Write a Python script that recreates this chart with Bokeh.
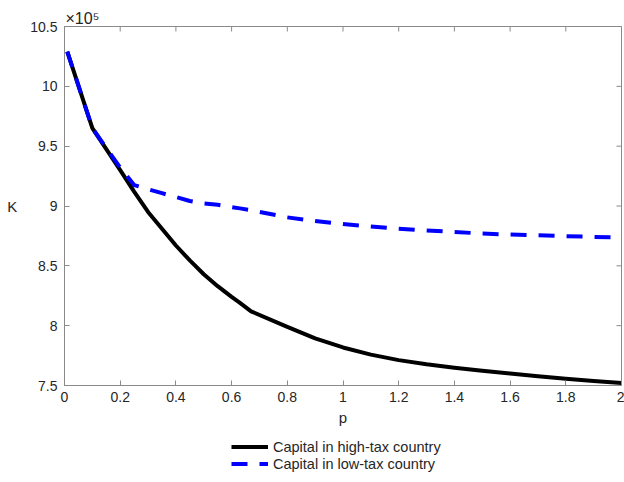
import math

from bokeh.plotting import figure
from bokeh.layouts import column
from bokeh.models import (ColumnDataSource, FixedTicker, Legend, LegendItem, Title)
from bokeh.embed import file_html
from bokeh.resources import INLINE

# Tax-rate parameter p
p_vals = [0.01, 0.1, 0.2, 0.25, 0.3, 0.35, 0.4, 0.45, 0.5, 0.55, 0.6, 0.63, 0.67,
          0.8, 0.9, 1.0, 1.1, 1.2, 1.3, 1.4, 1.5, 1.6, 1.7, 1.8, 1.9, 2.0]
# Capital stock, in units of 1e5
k_high = [10.29, 9.65, 9.30, 9.12, 8.95, 8.81, 8.67, 8.545, 8.43, 8.33, 8.24,
          8.19, 8.12, 7.99, 7.893, 7.818, 7.758, 7.712, 7.677, 7.649, 7.623,
          7.6, 7.578, 7.557, 7.538, 7.52]
k_low = [10.29, 9.65, 9.32, 9.175, 9.14, 9.107, 9.075, 9.042, 9.022, 9.01, 8.99,
         8.98, 8.965, 8.905, 8.875, 8.85, 8.828, 8.81, 8.796, 8.783, 8.77,
         8.761, 8.755, 8.748, 8.742, 8.736]

x_ticks = [0, 0.2, 0.4, 0.6, 0.8, 1, 1.2, 1.4, 1.6, 1.8, 2]
x_tick_labels = ["0", "0.2", "0.4", "0.6", "0.8", "1", "1.2", "1.4", "1.6", "1.8", "2"]
y_ticks = [7.5, 8, 8.5, 9, 9.5, 10, 10.5]
y_tick_labels = ["7.5", "8", "8.5", "9", "9.5", "10", "10.5"]

series_names = ["Capital in high-tax country", "Capital in low-tax country"]
exponent_text = "×10⁵"

FONT = "Liberation Sans"
TEXT_COLOR = "#262626"
AXIS_COLOR = "#8a8a8a"
HIGH_STYLE = dict(line_color="black", line_width=4, line_join="round")
LOW_STYLE = dict(line_color="#0000ff", line_width=4, line_dash="16 12",
                 line_join="round")

X_MIN, X_MAX = 0, 2
Y_MIN, Y_MAX = 7.5, 10.5

src = ColumnDataSource(data=dict(p=p_vals, high=k_high, low=k_low))

p = figure(frame_width=557, frame_height=359, x_range=(X_MIN, X_MAX),
           y_range=(Y_MIN, Y_MAX),
           output_backend="svg", toolbar_location=None,
           min_border_left=64, min_border_right=3, min_border_top=26,
           min_border_bottom=45, background_fill_color="white",
           border_fill_color="white")
p.grid.visible = False
p.outline_line_color = AXIS_COLOR
p.outline_line_width = 1

# exponent marker of the y axis, shown as a title over the frame's left edge
p.title = Title(text=exponent_text, align="left", offset=1, standoff=0,
                text_font=FONT, text_font_size="16px", text_font_style="normal",
                text_color=TEXT_COLOR)

p.line("p", "high", source=src, **HIGH_STYLE)
p.line("p", "low", source=src, **LOW_STYLE)

# inward ticks along the top and right edges of the box (half of each dash is
# clipped by the frame, leaving a 5px tick inside)
p.scatter(x=x_ticks, y=[Y_MAX] * len(x_ticks), marker="dash", angle=math.pi / 2,
          size=10, line_color=AXIS_COLOR, line_width=1)
p.scatter(x=[X_MAX] * len(y_ticks), y=y_ticks, marker="dash", size=10,
          line_color=AXIS_COLOR, line_width=1)


def style_axis(ax, ticks, labels):
    ax.ticker = FixedTicker(ticks=ticks)
    ax.major_label_overrides = {t: s for t, s in zip(ticks, labels)}
    ax.minor_tick_line_color = None
    ax.major_tick_in = 5
    ax.major_tick_out = 0
    ax.major_tick_line_color = AXIS_COLOR
    ax.axis_line_color = AXIS_COLOR
    ax.axis_line_width = 1
    ax.major_label_text_font = FONT
    ax.major_label_text_color = TEXT_COLOR
    ax.major_label_text_font_size = "14px"
    ax.axis_label_text_font = FONT
    ax.axis_label_text_font_style = "normal"
    ax.axis_label_text_font_size = "15px"
    ax.axis_label_text_color = TEXT_COLOR


style_axis(p.xaxis[0], x_ticks, x_tick_labels)
style_axis(p.yaxis[0], y_ticks, y_tick_labels)
p.xaxis[0].major_label_standoff = 6
p.yaxis[0].major_label_standoff = 7
p.xaxis.axis_label = "p"
p.yaxis.axis_label = "K"
p.xaxis[0].axis_label_standoff = 4
p.yaxis[0].axis_label_standoff = 10
p.yaxis[0].axis_label_orientation = "horizontal"

# legend strip underneath the axes; its key lines carry no visible data
leg_fig = figure(frame_width=624, frame_height=52, x_range=(0, 1), y_range=(0, 1),
                 x_axis_type=None, y_axis_type=None, output_backend="svg",
                 toolbar_location=None, min_border=0,
                 background_fill_color="white", border_fill_color="white")
leg_fig.grid.visible = False
leg_fig.outline_line_color = None
blank = [math.nan, math.nan]
key_high = leg_fig.line(x=blank, y=blank, **HIGH_STYLE)
key_low = leg_fig.line(x=blank, y=blank, **LOW_STYLE)

legend = Legend(items=[LegendItem(label=series_names[0], renderers=[key_high]),
                       LegendItem(label=series_names[1], renderers=[key_low])],
                location=(231, 10), orientation="vertical",
                glyph_width=37, glyph_height=17, label_height=17,
                label_standoff=5, spacing=0, padding=0, margin=0,
                border_line_color=None, background_fill_alpha=0,
                label_text_font=FONT, label_text_font_size="14.5px",
                label_text_color=TEXT_COLOR)
leg_fig.add_layout(legend, "center")

layout = column(p, leg_fig, spacing=0)

open("out.html", "w").write(file_html(layout, INLINE))
